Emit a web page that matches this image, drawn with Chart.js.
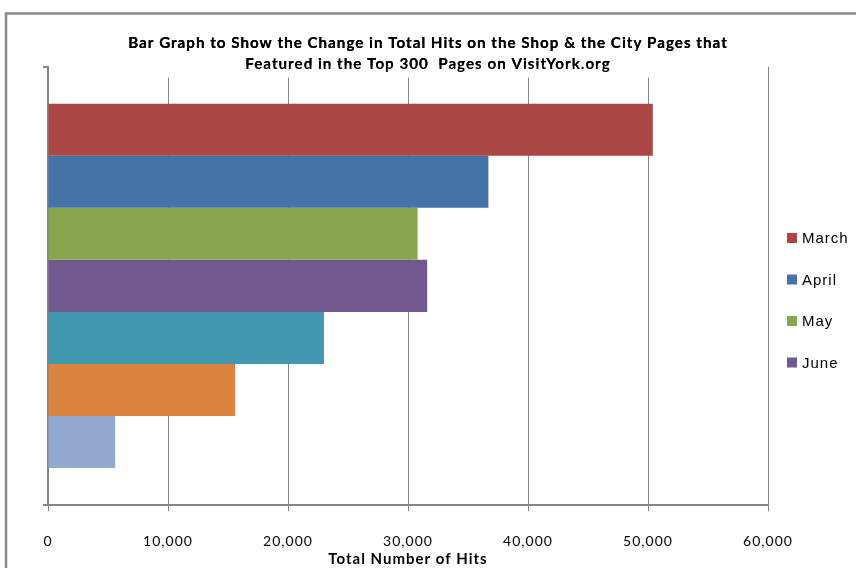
<!DOCTYPE html>
<html>
<head>
<meta charset="utf-8">
<title>Total Hits on the Shop & City Pages</title>
<script src="https://cdn.jsdelivr.net/npm/chart.js@4.4.1/dist/chart.umd.min.js"></script>
<style>
    html, body { margin: 0; padding: 0; background: #ffffff; }
    #wrap { width: 856px; height: 568px; }
</style>
</head>
<body>
<div id="wrap"><canvas id="hitsChart" width="856" height="568"></canvas></div>
<script>
// data
const categories = ['Shop & City Pages'];
const seriesNames = ['March', 'April', 'May', 'June', 'Series 5', 'Series 6', 'Series 7'];
const hitValues = [50400, 36700, 30800, 31600, 23000, 15600, 5600];
const barColors = ['#AA4643', '#4572A7', '#89A54E', '#71588F', '#4198AF', '#DB843D', '#93A9CF'];
const xTickLabels = ['0', '10,000', '20,000', '30,000', '40,000', '50,000', '60,000'];
const legendShown = 4; // only the first four series appear in the legend

const titleLines = [
    'Bar Graph to Show the Change in Total Hits on the Shop & the City Pages that',
    'Featured in the Top 300  Pages on VisitYork.org'
];

const axisGrey = '#868686';

document.addEventListener('DOMContentLoaded', function() {
    const canvas = document.getElementById('hitsChart');
    const ctx = canvas.getContext('2d');

    // outer frame of the chart, drawn first; text is a little spaced out like the original
    const framePlugin = {
        id: 'frame',
        beforeDraw(chart) {
            const c = chart.ctx;
            c.save();
            c.fillStyle = '#ffffff';
            c.fillRect(0, 0, chart.width, chart.height);
            c.strokeStyle = '#888888';
            c.lineWidth = 2.5;
            c.strokeRect(6, 13.5, chart.width + 20, chart.height + 20);
            c.restore();
            c.letterSpacing = '1px';
        }
    };

    // the title has a white box behind it that hides the tops of the grid lines
    const titleBoxPlugin = {
        id: 'titleBox',
        beforeDatasetsDraw(chart) {
            const c = chart.ctx;
            const area = chart.chartArea;
            c.save();
            c.fillStyle = '#ffffff';
            c.fillRect(area.left + 3, area.top - 1, 690, 12);
            c.restore();
            if (chart.titleBlock) chart.titleBlock.draw();
        }
    };

    // legend on the right, first four series only
    const sideLegendPlugin = {
        id: 'sideLegend',
        afterDraw(chart) {
            const c = chart.ctx;
            const x = chart.chartArea.right + 19;
            const y0 = 238;
            const step = 41.5;
            c.save();
            c.font = '15px "Liberation Sans", Arial, sans-serif';
            c.letterSpacing = '1px';
            c.textBaseline = 'middle';
            chart.data.datasets.slice(0, legendShown).forEach(function(ds, i) {
                const y = y0 + i * step;
                c.fillStyle = ds.backgroundColor;
                c.fillRect(x, y - 5, 10, 10);
                c.fillStyle = '#000000';
                c.fillText(ds.label, x + 15, y + 1);
            });
            c.restore();
        }
    };

    const datasets = seriesNames.map(function(name, i) {
        return {
            label: name,
            data: [hitValues[i]],
            backgroundColor: barColors[i],
            borderWidth: 0,
            categoryPercentage: 0.83,
            barPercentage: 1.0
        };
    });

    new Chart(ctx, {
        type: 'bar',
        data: {
            labels: categories,
            datasets: datasets
        },
        options: {
            responsive: false,
            animation: false,
            devicePixelRatio: 1,
            indexAxis: 'y',
            layout: {
                padding: 0
            },
            plugins: {
                legend: { display: false },
                tooltip: { enabled: false },
                title: {
                    display: true,
                    text: titleLines,
                    color: '#000000',
                    font: { family: 'Lato', size: 15.2, weight: 'bold', lineHeight: 1.4 },
                    padding: { top: 32.5, bottom: -8.5 }
                }
            },
            scales: {
                x: {
                    type: 'linear',
                    min: 0,
                    max: 60000,
                    ticks: {
                        stepSize: 10000,
                        color: '#000000',
                        padding: 22,
                        font: { family: 'Lato', size: 14 },
                        callback: function(value, index) {
                            return xTickLabels[index];
                        }
                    },
                    grid: {
                        color: axisGrey,
                        lineWidth: 1,
                        drawTicks: true,
                        tickLength: 6
                    },
                    border: { color: axisGrey, width: 2 },
                    title: {
                        display: true,
                        text: 'Total Number of Hits',
                        color: '#000000',
                        font: { family: 'Lato', size: 15, weight: 'bold', lineHeight: 1.2 },
                        padding: { top: -22, bottom: 0 }
                    }
                },
                y: {
                    type: 'category',
                    offset: true,
                    ticks: { display: false },
                    grid: {
                        offset: true,
                        drawOnChartArea: false,
                        drawTicks: true,
                        tickLength: 5,
                        color: axisGrey,
                        lineWidth: 2
                    },
                    border: { color: axisGrey, width: 2 },
                    afterFit: function(scale) { scale.width = 48; }
                },
                // empty axis on the right keeps room for the legend
                ySpace: {
                    type: 'category',
                    position: 'right',
                    ticks: { display: false },
                    grid: { display: false, drawTicks: false },
                    border: { display: false },
                    afterFit: function(scale) { scale.width = 88; }
                }
            }
        },
        plugins: [framePlugin, titleBoxPlugin, sideLegendPlugin]
    });
});
</script>
</body>
</html>
